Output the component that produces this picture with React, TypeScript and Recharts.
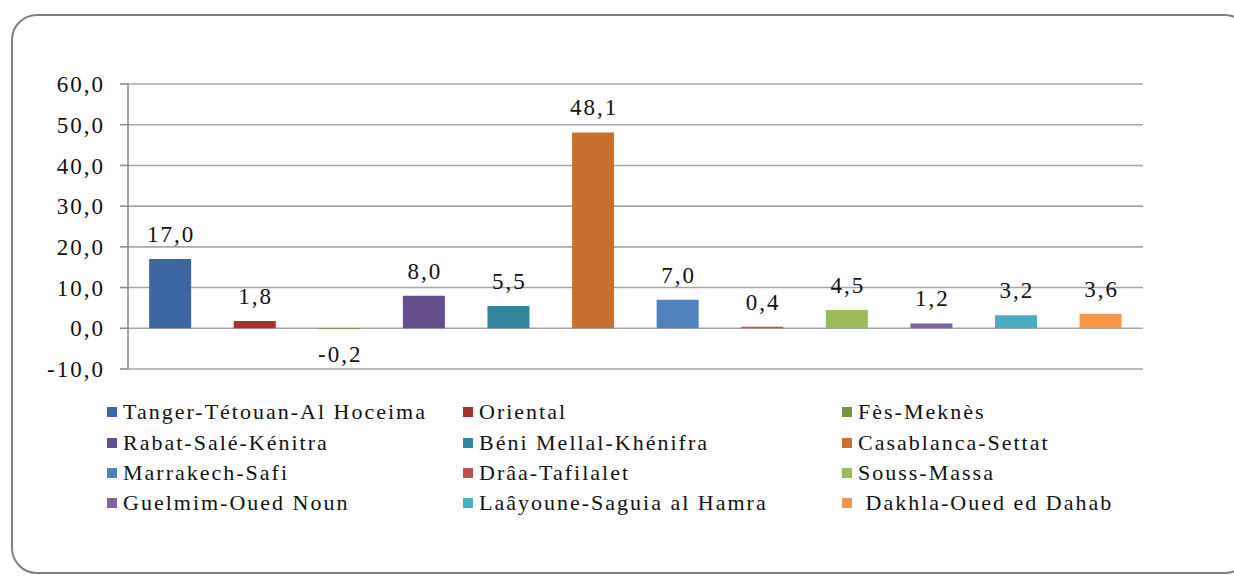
import React from "react";
import { BarChart, Bar, XAxis, YAxis, CartesianGrid, Cell, LabelList } from "recharts";

const regions = [
  "Tanger-Tétouan-Al Hoceima",
  "Oriental",
  "Fès-Meknès",
  "Rabat-Salé-Kénitra",
  "Béni Mellal-Khénifra",
  "Casablanca-Settat",
  "Marrakech-Safi",
  "Drâa-Tafilalet",
  "Souss-Massa",
  "Guelmim-Oued Noun",
  "Laâyoune-Saguia al Hamra",
  " Dakhla-Oued ed Dahab",
];

const values = [17.0, 1.8, -0.2, 8.0, 5.5, 48.1, 7.0, 0.4, 4.5, 1.2, 3.2, 3.6];

const colors = [
  "#3C67A3",
  "#A6322E",
  "#77933C",
  "#664D8C",
  "#31859C",
  "#C8712E",
  "#4F81BD",
  "#C0504D",
  "#9BBB59",
  "#8064A2",
  "#4BACC6",
  "#F79646",
];

const yTicks = [-10, 0, 10, 20, 30, 40, 50, 60];

const data = regions.map((name, i) => ({ name, value: values[i] }));

const FONT = "Liberation Serif, Tinos, DejaVu Serif";
const fmt = (v: number) => v.toFixed(1).replace(".", ",");

const ValueLabel = (props: any) => {
  const { x, y, width, height, value } = props;
  const top = Math.min(y, y + height);
  const bottom = Math.max(y, y + height);
  const ty = value >= 0 ? top - 17 : bottom + 33;
  return (
    <text
      x={x + width / 2 + 1}
      y={ty}
      textAnchor="middle"
      fontFamily={FONT}
      fontSize={23}
      letterSpacing={2}
      fill="#111"
    >
      {fmt(value)}
    </text>
  );
};

const legendCols = [107, 463, 842];
const legendRows = [412, 443, 473, 503];

export default function App() {
  return (
    <div
      style={{
        position: "absolute",
        left: 0,
        top: 0,
        width: 1234,
        height: 577,
        overflow: "hidden",
        background: "#fff",
      }}
    >
      <div
        style={{
          position: "absolute",
          left: 11,
          top: 14,
          width: 1240,
          height: 560,
          border: "2px solid #808080",
          borderRadius: 26,
          boxSizing: "border-box",
        }}
      />
      <div style={{ position: "absolute", left: 0, top: 0 }}>
        <BarChart
          width={1234}
          height={400}
          data={data}
          margin={{ top: 84, right: 91, left: 0, bottom: 31 }}
          barCategoryGap="25%"
        >
          <CartesianGrid vertical={false} stroke="#a6a6a6" strokeWidth={1.6} />
          <XAxis dataKey="name" hide />
          <YAxis
            width={128}
            domain={[-10, 60]}
            ticks={yTicks}
            interval={0}
            tickFormatter={fmt}
            tickSize={8}
            tickMargin={15}
            axisLine={{ stroke: "#8c8c8c", strokeWidth: 1.6 }}
            tickLine={{ stroke: "#8c8c8c", strokeWidth: 1.6 }}
            tick={{ fontFamily: FONT, fontSize: 23, fill: "#111", letterSpacing: 2 }}
          />
          <Bar dataKey="value" isAnimationActive={false}>
            {data.map((d, i) => (
              <Cell key={d.name} fill={colors[i]} />
            ))}
            <LabelList dataKey="value" content={ValueLabel} />
          </Bar>
        </BarChart>
      </div>
      {regions.map((name, i) => {
        const col = i % 3;
        const row = Math.floor(i / 3);
        return (
          <div
            key={name}
            style={{
              position: "absolute",
              left: legendCols[col],
              top: legendRows[row] - 15,
              height: 30,
              display: "flex",
              alignItems: "center",
              fontFamily: FONT,
              fontSize: 22,
              letterSpacing: 2,
              color: "#111",
              whiteSpace: "pre",
            }}
          >
            <span
              style={{
                display: "inline-block",
                width: 10,
                height: 10,
                background: colors[i],
                marginRight: 6,
              }}
            />
            {name}
          </div>
        );
      })}
    </div>
  );
}
